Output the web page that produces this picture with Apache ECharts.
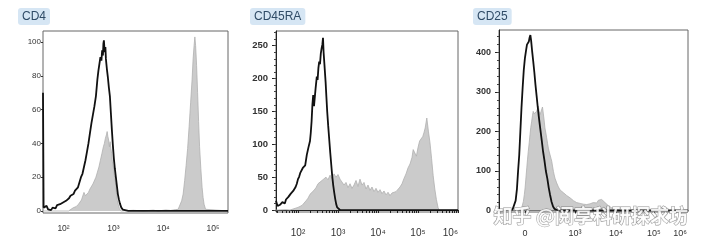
<!DOCTYPE html>
<html><head><meta charset="utf-8">
<script src="https://cdn.jsdelivr.net/npm/echarts@6/dist/echarts.min.js"></script>
<style>html,body{margin:0;padding:0;background:#fff}#c{width:711px;height:252px}</style>
</head><body><div id="c"></div>
<script>
// ---------- titles ----------
const panelTitles = ['CD4', 'CD45RA', 'CD25'];
const watermarkText = '知乎 @阅享科研探求坊';

// ---------- CD4 (x = log10 intensity) ----------
const cd4Control = [[1.588,70],[1.60,2],[1.63,1],[1.66,3],[1.69,1],[1.72,2],[1.75,0.5],[1.78,2],[1.81,3],[1.84,1.5],
  [1.87,3.5],[1.90,2.5],[1.93,4],[1.96,3],[1.99,5],[2.02,4],[2.05,6],[2.08,5],[2.11,7.5],[2.14,9],
  [2.17,8],[2.20,10],[2.23,12],[2.26,11],[2.29,14],[2.32,17],[2.35,20],[2.38,22],[2.41,26],[2.44,30],
  [2.47,35],[2.50,40],[2.53,46],[2.56,52],[2.59,57],[2.62,62],[2.65,68],[2.68,78],[2.70,83],[2.72,87],
  [2.74,91],[2.76,89],[2.775,95],[2.79,92],[2.80,99],[2.81,101],[2.825,94],[2.84,97],[2.85,90],[2.87,84],
  [2.89,79],[2.91,73],[2.93,68],[2.95,58],[2.97,48],[2.99,39],[3.01,31],[3.03,25],[3.05,20],[3.07,15],
  [3.09,10],[3.11,7],[3.13,4.5],[3.16,2],[3.19,0.8],[3.22,0],[3.30,0],[5.30,0]];
const cd4Stained = [[1.588,0],[2.10,0],[2.15,1],[2.20,2],[2.25,2.5],[2.30,4],[2.33,5],[2.36,6.5],[2.39,6],[2.41,11],
  [2.44,9],[2.47,10],[2.50,11],[2.53,13],[2.56,14],[2.59,16],[2.62,17],[2.65,20],[2.68,23],[2.71,26],
  [2.74,30],[2.77,34],[2.80,38],[2.82,40],[2.84,43],[2.86,45],[2.875,47],[2.89,44],[2.905,42],[2.92,38],
  [2.935,41],[2.95,37],[2.965,34],[2.98,29],[3.00,26],[3.02,21],[3.04,17],[3.06,11],[3.08,6],[3.10,3.5],
  [3.12,1.5],[3.15,0],[3.4,0.4],[3.6,0],[3.8,0.5],[3.9,0],[4.05,0.6],[4.15,0.3],[4.25,0.8],[4.30,1],
  [4.34,2],[4.37,6],[4.40,10],[4.43,18],[4.46,27],[4.49,37],[4.52,50],[4.55,64],[4.58,78],[4.60,90],
  [4.62,98],[4.635,103],[4.65,98],[4.67,86],[4.69,70],[4.71,53],[4.73,38],[4.755,25],[4.78,14],[4.80,8],
  [4.82,4],[4.85,1],[4.88,0],[5.30,0]];
const cd4XTicks = [2, 3, 4, 5];
const cd4XLabels = ['10²', '10³', '10⁴', '10⁵'];
const cd4YTicks = [0, 20, 40, 60, 80, 100];

// ---------- CD45RA (x = log10 intensity) ----------
const cd45raControl = [[1.45,14],[1.47,10],[1.49,6],[1.52,3],[1.55,8],[1.58,5],[1.61,12],[1.64,14],[1.67,10],[1.70,16],
  [1.73,13],[1.76,20],[1.79,18],[1.82,25],[1.85,22],[1.88,29],[1.91,31],[1.94,35],[1.97,40],[2.00,47],
  [2.03,51],[2.06,57],[2.09,60],[2.12,64],[2.15,65],[2.18,68],[2.22,84],[2.26,95],[2.30,105],[2.32,118],
  [2.34,135],[2.36,160],[2.38,175],[2.40,158],[2.42,160],[2.44,185],[2.47,203],[2.49,198],[2.51,216],[2.53,226],
  [2.55,222],[2.57,238],[2.59,246],[2.61,252],[2.625,262],[2.64,240],[2.66,222],[2.69,195],[2.71,172],[2.73,150],
  [2.755,128],[2.78,108],[2.805,88],[2.83,70],[2.855,52],[2.88,38],[2.905,27],[2.93,17],[2.955,9],[2.98,4],
  [3.01,1],[3.05,0],[6.0,0]];
const cd45raStained = [[1.45,0],[1.7,0.5],[1.8,0],[1.9,2],[1.95,1],[2.0,4],[2.05,3],[2.10,7],[2.15,9],[2.20,14],
  [2.25,18],[2.30,24],[2.35,22],[2.40,30],[2.45,34],[2.50,40],[2.55,38],[2.60,45],[2.65,42],[2.70,50],
  [2.75,46],[2.80,53],[2.85,48],[2.90,55],[2.95,50],[3.00,54],[3.05,47],[3.10,50],[3.15,38],[3.20,42],
  [3.25,34],[3.30,40],[3.35,33],[3.40,38],[3.45,45],[3.50,36],[3.55,47],[3.60,38],[3.65,42],[3.70,32],
  [3.75,38],[3.80,30],[3.85,35],[3.90,28],[3.95,33],[4.00,27],[4.05,31],[4.10,25],[4.15,29],[4.20,23],
  [4.25,27],[4.30,22],[4.35,26],[4.40,24],[4.45,28],[4.50,30],[4.55,35],[4.60,40],[4.65,48],[4.70,55],
  [4.75,64],[4.80,70],[4.85,80],[4.88,92],[4.92,90],[4.96,82],[5.00,95],[5.04,105],[5.08,108],[5.12,112],
  [5.15,118],[5.18,125],[5.22,140],[5.26,120],[5.30,102],[5.34,78],[5.38,52],[5.42,32],[5.46,16],[5.50,4],
  [5.53,0],[6.0,0]];
const cd45raXTicks = [2, 3, 4, 5, 6];
const cd45raXLabels = ['10²', '10³', '10⁴', '10⁵', '10⁶'];
const cd45raYTicks = [0, 50, 100, 150, 200, 250];

// ---------- CD25 (x = display channel, biexponential scale) ----------
const cd25Control = [[70,0],[80,5],[88,25],[95,55],[101,100],[107,140],[113,200],[119,260],[125,310],[131,355],
  [137,385],[143,405],[148,420],[153,415],[158,428],[162,438],[166,444],[170,430],[175,405],[181,378],
  [187,350],[193,318],[199,290],[205,262],[212,232],[219,205],[226,178],[233,150],[240,128],[248,100],
  [256,80],[263,58],[270,40],[278,22],[286,10],[294,4],[302,1],[312,0],[1000,0]];
const cd25Stained = [[0,0],[105,0],[115,3],[122,10],[129,23],[134,40],[138,57],[143,85],[147,108],[151,130],
  [155,150],[160,172],[164,192],[168,210],[173,226],[177,240],[181,251],[186,245],[190,243],[195,250],
  [199,251],[204,258],[208,264],[213,250],[217,243],[222,250],[226,255],[230,262],[234,258],[238,232],
  [243,209],[248,196],[252,184],[257,170],[261,158],[266,148],[270,141],[275,132],[279,125],[284,110],
  [288,99],[292,90],[296,82],[305,70],[314,60],[323,52],[332,49],[341,45],[349,40],[358,38],
  [367,34],[376,32],[385,28],[394,25],[402,22],[411,20],[420,22],[429,18],[438,20],[447,16],
  [456,19],[464,15],[473,18],[482,17],[491,21],[499,20],[508,24],[517,19],[526,26],[535,22],
  [543,28],[552,24],[561,20],[570,15],[579,12],[587,9],[596,7],[605,5],[614,4],[623,3],
  [640,1.5],[658,1],[680,0.5],[700,0],[1000,0]];
const cd25XTicks = [138, 402, 619, 820, 958];
const cd25XLabels = ['0', '10³', '10⁴', '10⁵', '10⁶'];
const cd25YTicks = [0, 100, 200, 300, 400];

// ---------- helpers ----------
const FONT = '"Liberation Sans", Arial, sans-serif';
function fmt(ticks, labels) {
  return function (v) {
    const i = ticks.findIndex(t => Math.abs(t - v) < 1e-6);
    return i < 0 ? '' : labels[i];
  };
}
function logMinorTicks(min, max) {
  const out = [];
  for (let n = 0; n < 7; n++) for (let k = 1; k < 10; k++) {
    const v = n + Math.log10(k);
    if (v >= min - 1e-9 && v <= max + 1e-9) out.push(v);
  }
  return out;
}
function steps(min, max, step) { const o = []; for (let v = min; v <= max + 1e-9; v += step) o.push(v); return o; }

const GRAY_FILL = '#cbcbcb', GRAY_EDGE = '#b0b0b0', BLACK = '#111';
function grayS(data, i) {
  return { type: 'line', xAxisIndex: i, yAxisIndex: i, data, symbol: 'none', z: 2,
    lineStyle: { color: GRAY_EDGE, width: 0.8 }, areaStyle: { color: GRAY_FILL, opacity: 1 },
    animation: false, silent: true };
}
function blackS(data, i) {
  return { type: 'line', xAxisIndex: i, yAxisIndex: i, data, symbol: 'none', z: 3,
    lineStyle: { color: BLACK, width: 1.8 }, animation: false, silent: true };
}
const lbl = (size, extra) => Object.assign({ fontSize: size, color: '#333', fontFamily: FONT }, extra);

const chart = echarts.init(document.getElementById('c'));
chart.setOption({
  backgroundColor: '#fff',
  animation: false,
  grid: [
    { left: 43, top: 31, width: 185, height: 182, show: true, borderColor: '#666', borderWidth: 1 },
    { left: 276, top: 31, width: 182, height: 181, show: true, borderColor: '#666', borderWidth: 1 },
    { left: 499, top: 30, width: 189, height: 182, show: true, borderColor: '#666', borderWidth: 1 }
  ],
  xAxis: [
    { gridIndex: 0, type: 'value', min: 1.588, max: 5.30, splitLine: { show: false },
      axisLine: { show: false }, axisTick: { show: false },
      axisLabel: lbl(8.5, { customValues: cd4XTicks, formatter: fmt(cd4XTicks, cd4XLabels), margin: 11 }) },
    { gridIndex: 1, type: 'value', min: 1.45, max: 6, splitLine: { show: false },
      axisLine: { show: true, lineStyle: { color: '#222', width: 1 } },
      axisTick: { show: true, customValues: logMinorTicks(1.45, 6), length: 3, lineStyle: { color: '#222' } },
      axisLabel: lbl(10, { customValues: cd45raXTicks, formatter: fmt(cd45raXTicks, cd45raXLabels), margin: 16, alignMaxLabel: 'right' }) },
    { gridIndex: 2, type: 'value', min: 0, max: 1000, splitLine: { show: false },
      axisLine: { show: true, lineStyle: { color: '#222', width: 1 } },
      axisTick: { show: true, customValues: cd25XTicks, length: 3, lineStyle: { color: '#222' } },
      axisLabel: lbl(9, { customValues: cd25XTicks, formatter: fmt(cd25XTicks, cd25XLabels), margin: 17 }) }
  ],
  yAxis: [
    { gridIndex: 0, type: 'value', min: -1.2, max: 106.5, splitLine: { show: false },
      axisLine: { show: false }, axisTick: { show: true, customValues: cd4YTicks, length: 2, lineStyle: { color: '#333' } },
      axisLabel: lbl(8, { customValues: cd4YTicks, margin: 2 }) },
    { gridIndex: 1, type: 'value', position: 'left', min: -3, max: 272.4, splitLine: { show: false },
      axisLine: { show: true, lineStyle: { color: '#222', width: 1 } },
      axisTick: { show: true, customValues: cd45raYTicks, length: 4, lineStyle: { color: '#222' } },
      axisLabel: lbl(9.5, { customValues: cd45raYTicks, margin: 8, fontWeight: 'bold' }) },
    { gridIndex: 2, type: 'value', position: 'left', min: -3.8, max: 457, splitLine: { show: false },
      axisLine: { show: true, lineStyle: { color: '#222', width: 1 } },
      axisTick: { show: true, customValues: cd25YTicks, length: 4, lineStyle: { color: '#222' } },
      axisLabel: lbl(9, { customValues: cd25YTicks, margin: 8, fontWeight: 'bold' }) },
    { gridIndex: 1, type: 'value', position: 'left', offset: 0, min: -3, max: 272.4, splitLine: { show: false }, axisLine: { show: false },
      axisLabel: { show: false }, axisTick: { show: true, customValues: steps(0, 270, 10), length: 2, lineStyle: { color: '#444' } } },
    { gridIndex: 2, type: 'value', position: 'left', offset: 0, min: -3.8, max: 457, splitLine: { show: false }, axisLine: { show: false },
      axisLabel: { show: false }, axisTick: { show: true, customValues: steps(0, 440, 20), length: 2, lineStyle: { color: '#444' } } }
  ],
  series: [
    grayS(cd4Stained, 0), blackS(cd4Control, 0),
    grayS(cd45raStained, 1), blackS(cd45raControl, 1),
    grayS(cd25Stained, 2), blackS(cd25Control, 2)
  ],
  graphic: [
    ...[[18, panelTitles[0]], [250, panelTitles[1]], [473, panelTitles[2]]].map(([x, t]) => ({
      type: 'text', left: x, top: 8, z: 50,
      style: { text: t, font: '12px ' + FONT, fill: '#2f4b66', backgroundColor: '#d6e6f4',
        padding: [3, 4, 2, 4], borderRadius: 3 }
    })),
    { type: 'text', left: 493, top: 206, z: 100,
      style: { text: watermarkText, font: 'bold 19px "Noto Sans CJK SC"', fill: 'rgba(255,255,255,0.88)',
        stroke: 'rgba(110,110,110,0.75)', lineWidth: 1 } }
  ]
});
</script></body></html>
